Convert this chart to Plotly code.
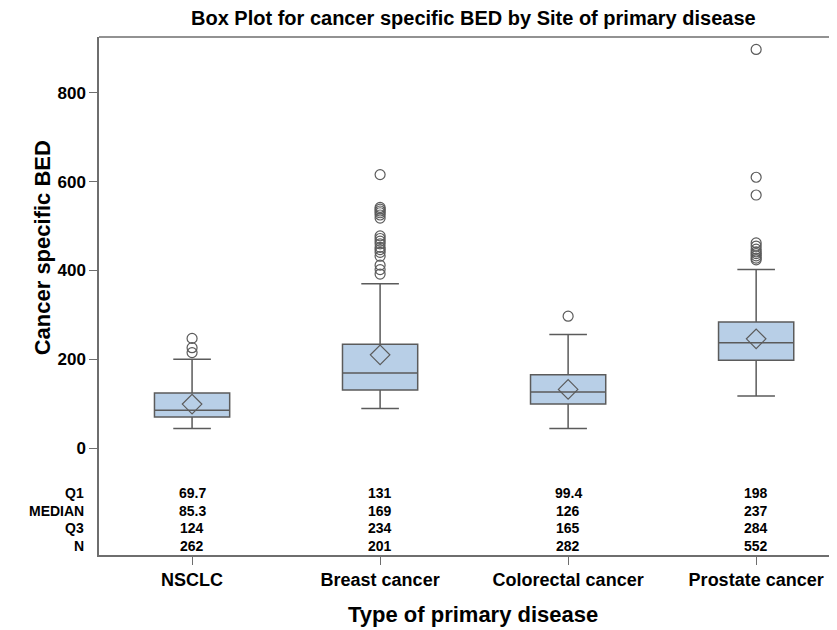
import plotly.graph_objects as go

categories = ["NSCLC", "Breast cancer", "Colorectal cancer", "Prostate cancer"]
q1 = [69.7, 131, 99.4, 198]
median = [85.3, 169, 126, 237]
q3 = [124, 234, 165, 284]
n_obs = [262, 201, 282, 552]
lower_whisker = [44, 89, 44, 117]
upper_whisker = [200, 370, 256, 402]
means = [99, 210, 132, 246]
outliers = [
    [215, 226, 247],
    [392, 402, 412, 432, 441, 447, 452, 460, 466, 472, 478, 518, 525, 530, 534, 538, 542, 616],
    [297],
    [424, 428, 433, 438, 442, 448, 455, 462, 570, 610, 898],
]
table_rows = ["Q1", "MEDIAN", "Q3", "N"]
table_y = [-101, -141, -181, -220]
y_ticks = [0, 200, 400, 600, 800]

FONT = "Arial, Liberation Sans, sans-serif"
LINE = "#5b5b5b"
FILL = "#b8cfe7"
AX = "#6e6e6e"

xpos = list(range(len(categories)))
fig = go.Figure()
fig.add_trace(go.Box(
    x=xpos, q1=q1, median=median, q3=q3,
    lowerfence=lower_whisker, upperfence=upper_whisker,
    width=0.4, whiskerwidth=0.5, fillcolor=FILL,
    line=dict(color=LINE, width=1.5), boxpoints=False, showlegend=False,
    hoverinfo="skip",
))
ox, oy = [], []
for i, vals in enumerate(outliers):
    ox += [i] * len(vals)
    oy += vals
fig.add_trace(go.Scatter(
    x=ox, y=oy, mode="markers", showlegend=False,
    marker=dict(symbol="circle-open", size=10, color=LINE, line=dict(width=1.2)),
))
fig.add_trace(go.Scatter(
    x=xpos, y=means, mode="markers", showlegend=False,
    marker=dict(symbol="diamond-open", size=15, color=LINE, line=dict(width=1.2)),
))

stats = [q1, median, q3, n_obs]
for lab, yy, vals in zip(table_rows, table_y, stats):
    fig.add_annotation(x=0, xref="paper", y=yy, yref="y", text=f"<b>{lab}</b>",
                       showarrow=False, xanchor="right", xshift=-13,
                       font=dict(family=FONT, size=14, color="black"))
    for i, v in enumerate(vals):
        fig.add_annotation(x=i, y=yy, text=f"<b>{v}</b>", showarrow=False,
                           font=dict(family=FONT, size=14, color="black"))

fig.add_annotation(x=0.507, xref="paper", y=1, yref="paper", yanchor="middle", yshift=19,
                   text="<b>Box Plot for cancer specific BED by Site of primary disease</b>",
                   showarrow=False, font=dict(family=FONT, size=20, color="black"))
fig.add_annotation(x=-0.0962, xref="paper", y=0.593, yref="paper", textangle=-90,
                   text="<b>Cancer specific BED</b>", showarrow=False,
                   font=dict(family=FONT, size=22, color="black"))
fig.add_annotation(x=0.507, xref="paper", y=0, yref="paper", yanchor="middle", yshift=-59,
                   text="<b>Type of primary disease</b>", showarrow=False,
                   font=dict(family=FONT, size=22, color="black"))
fig.add_shape(type="line", xref="paper", yref="paper", x0=0, x1=1, y0=1, y1=1,
              line=dict(color=AX, width=1.5))

fig.update_layout(
    width=829, height=622,
    margin=dict(l=91, r=0, t=29, b=75),
    plot_bgcolor="white", paper_bgcolor="white",
    font=dict(family=FONT, color="black"),
    xaxis=dict(range=[-0.495, 3.43], tickvals=xpos, ticktext=[f"<b>{c}</b>" for c in categories],
               showgrid=False, zeroline=False, showline=True, linecolor=AX, linewidth=1.5,
               ticks="outside", ticklen=8, tickcolor=AX, tickfont=dict(size=18, family=FONT)),
    yaxis=dict(range=[-241, 926], tickvals=y_ticks, ticktext=[f"<b>{t}</b>" for t in y_ticks],
               showgrid=False, zeroline=False, showline=True, linecolor=AX, linewidth=1.5,
               ticks="outside", ticklen=8, tickcolor=AX, tickfont=dict(size=17, family=FONT)),
)
fig.write_html("out.html")
